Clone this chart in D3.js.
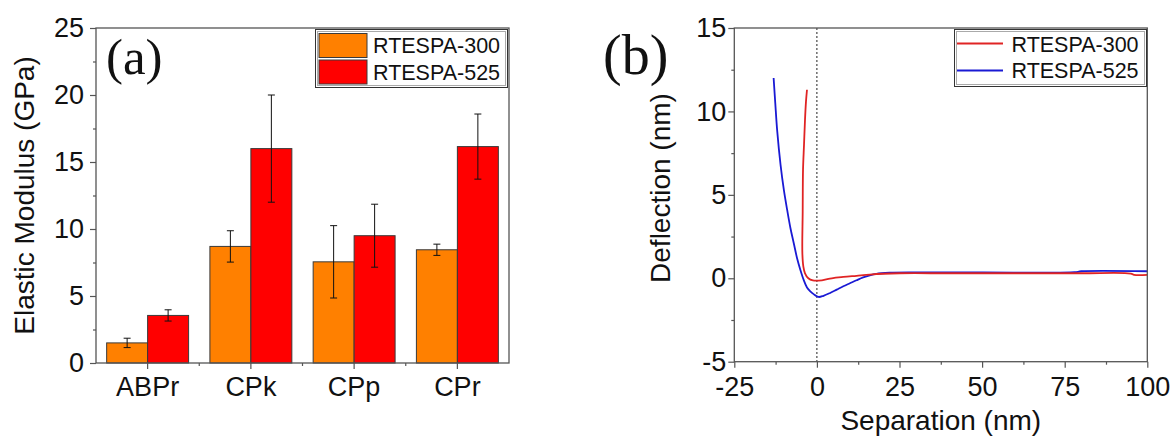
<!DOCTYPE html>
<html>
<head>
<meta charset="utf-8">
<script src="https://cdn.jsdelivr.net/npm/d3@7"></script>
<style>
  body { margin: 0; background: #fff; }
  svg { display: block; font-family: "Liberation Sans", Arial, sans-serif; }
</style>
</head>
<body>
<script>
// ---- data: panel (a) elastic modulus ----
const categories = ["ABPr", "CPk", "CPp", "CPr"];
const seriesNames = ["RTESPA-300", "RTESPA-525"];
const modulus300 = [1.5, 8.7, 7.55, 8.45];
const error300 = [0.35, 1.17, 2.7, 0.42];
const modulus525 = [3.55, 16.0, 9.5, 16.15];
const error525 = [0.42, 4.0, 2.35, 2.43];
const yTicksA = [0, 5, 10, 15, 20, 25];

// ---- data: panel (b) force curves ----
const sep300 = [-3.0, -3.3, -3.6, -3.9, -4.2, -4.3, -4.4, -4.1, -3.6, -2.6, -1.2, 1.5, 4.5, 8, 12, 16, 20, 25, 40, 60, 80, 95, 96, 100];
const defl300 = [11.3, 10.6, 9.5, 8.0, 6.5, 4.0, 1.5, 0.7, 0.3, 0.0, -0.13, -0.12, 0.0, 0.08, 0.15, 0.22, 0.27, 0.3, 0.3, 0.3, 0.3, 0.28, 0.2, 0.2];
const sep525 = [-13.1, -12.6, -12.0, -11.0, -10.0, -9.0, -8.0, -7.0, -6.0, -5.0, -4.0, -3.0, -2.0, -1.0, 0.5, 2.0, 4.0, 6.0, 8.0, 10.0, 12.0, 14.0, 16.0, 18.0, 22.0, 30, 50, 78, 80, 100];
const defl525 = [12.0, 10.5, 8.8, 6.8, 5.3, 4.1, 3.0, 2.1, 1.2, 0.5, -0.1, -0.55, -0.78, -0.95, -1.12, -1.05, -0.88, -0.68, -0.48, -0.3, -0.12, 0.05, 0.18, 0.27, 0.33, 0.35, 0.35, 0.36, 0.42, 0.42];
const xTicksB = [-25, 0, 25, 50, 75, 100];
const yTicksB = [-5, 0, 5, 10, 15];

const axisColor = "#555";
const tickFont = 27;
const plainFormat = d => String(d); // keep ASCII hyphen for negatives

const svg = d3.select("body").append("svg")
  .attr("width", 1174)
  .attr("height", 437);

svg.append("rect").attr("width", 1174).attr("height", 437).attr("fill", "#fff");

function styleAxis(g) {
  g.select(".domain").remove();
  g.selectAll(".tick line").attr("stroke", axisColor).attr("stroke-width", 1.2);
  g.selectAll(".tick text")
    .attr("fill", "#111")
    .style("font-size", tickFont + "px")
    .style("font-family", "'Liberation Sans', Arial, sans-serif");
}

// ================= panel (a) =================
const A = { left: 96, right: 509, top: 28, bottom: 363 };

const xA = d3.scaleBand().domain(categories).range([A.left, A.right]).padding(0);
const xSub = d3.scaleBand().domain(seriesNames).range([0, xA.bandwidth()]).paddingInner(0).paddingOuter(0.26);
const yA = d3.scaleLinear().domain([0, 25]).range([A.bottom, A.top]);

const gA = svg.append("g");

const barColors = { "RTESPA-300": "#ff8000", "RTESPA-525": "#ff0000" };
const barRows = [];
categories.forEach((c, i) => {
  barRows.push({ cat: c, s: "RTESPA-300", v: modulus300[i], e: error300[i] });
  barRows.push({ cat: c, s: "RTESPA-525", v: modulus525[i], e: error525[i] });
});

gA.selectAll("rect.bar")
  .data(barRows)
  .enter().append("rect")
  .attr("class", "bar")
  .attr("x", d => xA(d.cat) + xSub(d.s))
  .attr("y", d => yA(d.v))
  .attr("width", xSub.bandwidth())
  .attr("height", d => yA(0) - yA(d.v))
  .attr("fill", d => barColors[d.s])
  .attr("stroke", "#3a3a3a")
  .attr("stroke-width", 1);

// error bars
const errG = gA.selectAll("g.err")
  .data(barRows)
  .enter().append("g")
  .attr("class", "err")
  .attr("transform", d => `translate(${xA(d.cat) + xSub(d.s) + xSub.bandwidth() / 2},0)`);
errG.append("line")
  .attr("y1", d => yA(d.v + d.e)).attr("y2", d => yA(d.v - d.e))
  .attr("stroke", "#111").attr("stroke-width", 1);
errG.append("line")
  .attr("x1", -3.5).attr("x2", 3.5)
  .attr("y1", d => yA(d.v + d.e)).attr("y2", d => yA(d.v + d.e))
  .attr("stroke", "#111").attr("stroke-width", 1);
errG.append("line")
  .attr("x1", -3.5).attr("x2", 3.5)
  .attr("y1", d => yA(d.v - d.e)).attr("y2", d => yA(d.v - d.e))
  .attr("stroke", "#111").attr("stroke-width", 1);

// axes
gA.append("g")
  .attr("transform", `translate(${A.left},0)`)
  .call(d3.axisLeft(yA).tickValues(yTicksA).tickFormat(plainFormat).tickSize(6).tickPadding(6))
  .call(styleAxis);
gA.append("g")
  .attr("transform", `translate(${A.left},0)`)
  .call(d3.axisLeft(yA).tickValues(yTicksA.slice(0, -1).map(v => v + 2.5)).tickSize(3).tickFormat(""))
  .call(styleAxis);
gA.append("g")
  .attr("transform", `translate(0,${A.bottom})`)
  .call(d3.axisBottom(xA).tickSize(6).tickPadding(8))
  .call(styleAxis);
// minor ticks at band edges
gA.selectAll("line.minorx")
  .data(categories.slice(1))
  .enter().append("line")
  .attr("x1", d => xA(d)).attr("x2", d => xA(d))
  .attr("y1", A.bottom).attr("y2", A.bottom + 3)
  .attr("stroke", axisColor).attr("stroke-width", 1.2);

gA.append("rect")
  .attr("x", A.left).attr("y", A.top)
  .attr("width", A.right - A.left).attr("height", A.bottom - A.top)
  .attr("fill", "none").attr("stroke", axisColor).attr("stroke-width", 1.3);

gA.append("text")
  .attr("transform", `translate(33.5,${(A.top + A.bottom) / 2}) rotate(-90)`)
  .attr("text-anchor", "middle")
  .style("font-size", "28px")
  .attr("fill", "#111")
  .text("Elastic Modulus (GPa)");

gA.append("text")
  .attr("x", 106).attr("y", 74)
  .style("font-family", "'Liberation Serif', 'Times New Roman', serif")
  .style("font-size", "51px")
  .attr("fill", "#111")
  .text("(a)");

// legend (a)
const legA = gA.append("g");
legA.append("rect")
  .attr("x", 315.5).attr("y", 29.5).attr("width", 192).attr("height", 58)
  .attr("fill", "#fff").attr("stroke", "#333").attr("stroke-width", 1);
legA.append("rect")
  .attr("x", 317.5).attr("y", 31.5).attr("width", 188).attr("height", 54)
  .attr("fill", "none").attr("stroke", "#aaa").attr("stroke-width", 1);
seriesNames.forEach((s, i) => {
  legA.append("rect")
    .attr("x", 319).attr("y", 33.5 + i * 26.5).attr("width", 48).attr("height", 24)
    .attr("fill", barColors[s]).attr("stroke", "#3a3a3a").attr("stroke-width", 1);
  legA.append("text")
    .attr("x", 373).attr("y", 53.3 + i * 26.7)
    .style("font-size", "21.5px")
    .attr("fill", "#111")
    .text(s);
});

// ================= panel (b) =================
const B = { left: 734.3, right: 1147.3, top: 28, bottom: 361.7 };
const xB = d3.scaleLinear().domain([-25, 100]).range([B.left, B.right]);
const yB = d3.scaleLinear().domain([-5, 15]).range([B.bottom, B.top]);

const gB = svg.append("g");

gB.append("g")
  .attr("transform", `translate(${B.left},0)`)
  .call(d3.axisLeft(yB).tickValues(yTicksB).tickFormat(plainFormat).tickSize(6).tickPadding(2))
  .call(styleAxis);
gB.append("g")
  .attr("transform", `translate(${B.left},0)`)
  .call(d3.axisLeft(yB).tickValues(yTicksB.slice(0, -1).map(v => v + 2.5)).tickSize(3).tickFormat(""))
  .call(styleAxis);
gB.append("g")
  .attr("transform", `translate(0,${B.bottom})`)
  .call(d3.axisBottom(xB).tickValues(xTicksB).tickFormat(plainFormat).tickSize(6).tickPadding(9))
  .call(styleAxis);
gB.append("g")
  .attr("transform", `translate(0,${B.bottom})`)
  .call(d3.axisBottom(xB).tickValues(xTicksB.slice(0, -1).map(v => v + 12.5)).tickSize(3).tickFormat(""))
  .call(styleAxis);

// zero reference line
gB.append("line")
  .attr("x1", xB(0)).attr("x2", xB(0))
  .attr("y1", B.top).attr("y2", B.bottom)
  .attr("stroke", "#222").attr("stroke-width", 1)
  .attr("stroke-dasharray", "2,2");

const lineGen = d3.line()
  .x(d => xB(d[0]))
  .y(d => yB(d[1]))
  .curve(d3.curveCatmullRom.alpha(0.5));

const curves = [
  { name: "RTESPA-300", color: "#e02424", pts: d3.zip(sep300, defl300) },
  { name: "RTESPA-525", color: "#1a1ad4", pts: d3.zip(sep525, defl525) }
];

gB.selectAll("path.curve")
  .data(curves.slice().reverse())
  .enter().append("path")
  .attr("class", "curve")
  .attr("d", d => lineGen(d.pts))
  .attr("fill", "none")
  .attr("stroke", d => d.color)
  .attr("stroke-width", 1.8);

gB.append("rect")
  .attr("x", B.left).attr("y", B.top)
  .attr("width", B.right - B.left).attr("height", B.bottom - B.top)
  .attr("fill", "none").attr("stroke", axisColor).attr("stroke-width", 1.3);

gB.append("text")
  .attr("x", (B.left + B.right) / 2).attr("y", 430)
  .attr("text-anchor", "middle")
  .style("font-size", "28px")
  .attr("fill", "#111")
  .text("Separation (nm)");

gB.append("text")
  .attr("transform", `translate(670,188) rotate(-90)`)
  .attr("text-anchor", "middle")
  .style("font-size", "28px")
  .attr("fill", "#111")
  .text("Deflection (nm)");

gB.append("text")
  .attr("x", 603).attr("y", 74)
  .style("font-family", "'Liberation Serif', 'Times New Roman', serif")
  .style("font-size", "56px")
  .attr("fill", "#111")
  .text("(b)");

// legend (b)
const legB = gB.append("g");
legB.append("rect")
  .attr("x", 954.5).attr("y", 29.5).attr("width", 192).attr("height", 57)
  .attr("fill", "#fff").attr("stroke", "#333").attr("stroke-width", 1);
legB.append("rect")
  .attr("x", 956.5).attr("y", 31.5).attr("width", 188).attr("height", 53)
  .attr("fill", "none").attr("stroke", "#aaa").attr("stroke-width", 1);
curves.forEach((c, i) => {
  legB.append("line")
    .attr("x1", 957).attr("x2", 1003)
    .attr("y1", 43.5 + i * 27).attr("y2", 43.5 + i * 27)
    .attr("stroke", c.color).attr("stroke-width", 1.8);
  legB.append("text")
    .attr("x", 1011.5).attr("y", 51.7 + i * 26.6)
    .style("font-size", "21.5px")
    .attr("fill", "#111")
    .text(c.name);
});
</script>
</body>
</html>
